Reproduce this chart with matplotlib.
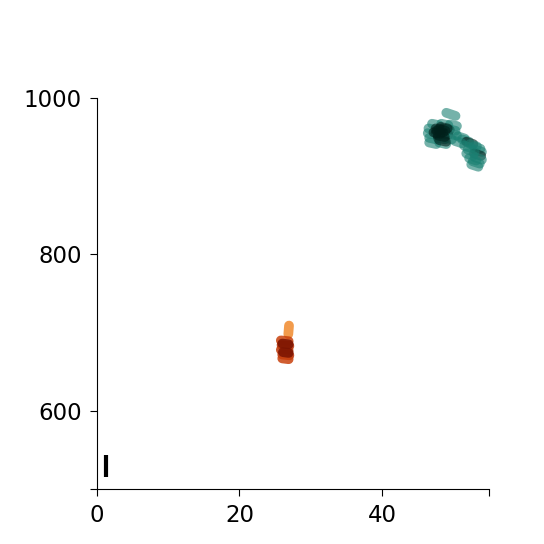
import matplotlib
matplotlib.use("Agg")
import matplotlib.pyplot as plt

# Teal cluster strokes (start -> end)
teal_x0 = [49.0,
           47.0, 48.3, 49.5,
           46.5, 47.5, 48.5, 49.3,
           46.4, 47.5, 48.3, 49.5,
           46.6, 47.8, 48.8,
           46.6, 48.0,
           47.6, 47.8, 48.2, 47.2, 48.0, 47.9,
           50.6, 51.2, 51.8, 52.3, 52.8, 53.0, 52.9, 53.0, 52.7, 52.5, 51.5, 52.0,
           50.2, 51.8, 52.2]
teal_y0 = [981,
           967, 967, 966,
           961, 961, 961, 960,
           955, 955, 955, 954,
           949, 949, 949,
           943, 943,
           958, 952, 963, 956, 946, 960,
           951, 947, 944, 941, 938, 934, 929, 924, 919, 915, 939, 934,
           945, 929, 923]
teal_x1 = [50.3,
           48.0, 49.3, 50.5,
           47.5, 48.5, 49.5, 50.3,
           47.4, 48.5, 49.3, 50.5,
           47.6, 48.8, 49.8,
           47.6, 49.0,
           48.6, 48.8, 49.2, 48.2, 49.0, 48.9,
           51.6, 52.2, 52.8, 53.3, 53.8, 54.0, 53.9, 54.0, 53.7, 53.5, 52.5, 53.0,
           51.2, 52.8, 53.2]
teal_y1 = [977,
           965, 965, 964,
           959, 959, 959, 958,
           953, 953, 953, 952,
           947, 947, 947,
           941, 941,
           956, 950, 961, 954, 944, 958,
           948, 944, 941, 938, 935, 931, 926, 921, 916, 912, 936, 931,
           942, 926, 920]
teal_dark = [0,
             0, 0, 0,
             0, 1, 1, 0,
             0, 1, 1, 0,
             0, 1, 0,
             0, 0,
             1, 1, 1, 1, 1, 1,
             0, 0, 1, 0, 0, 0, 1, 0, 0, 0, 0, 0,
             0, 0, 0]

# Orange / red cluster strokes
or_x0 = [26.95, 25.8, 25.9, 25.8, 26.0, 26.0, 26.0, 26.1]
or_y0 = [709, 690, 684, 678, 672, 667, 686, 675]
or_x1 = [26.85, 26.9, 27.0, 26.9, 27.0, 26.9, 26.9, 26.9]
or_y1 = [698, 689, 683, 677, 671, 666, 685, 674]
or_col = ['#f08a2c', '#c8400c', '#b83008', '#c03a0a', '#b83008', '#c8400c', '#7a1402', '#7a1402']

# Black stroke
blk_x = [1.26, 1.26]
blk_y = [544, 515]

fig = plt.figure(figsize=(5.44, 5.44), dpi=100)
ax = fig.add_axes([0.178, 0.101, 0.721, 0.719])

for x0, y0, x1, y1, d in zip(teal_x0, teal_y0, teal_x1, teal_y1, teal_dark):
    c = '#001f1a' if d else '#1a8072'
    ax.plot([x0, x1], [y0, y1], color=c, alpha=0.6, lw=7, solid_capstyle='round')

for x0, y0, x1, y1, c in zip(or_x0, or_y0, or_x1, or_y1, or_col):
    ax.plot([x0, x1], [y0, y1], color=c, alpha=0.85, lw=7, solid_capstyle='round')

ax.plot(blk_x, blk_y, color='black', lw=3, solid_capstyle='butt')

ax.set_xlim(0, 55)
ax.set_ylim(500, 1000)
ax.set_xticks([0, 20, 40, 55])
ax.set_xticklabels(['0', '20', '40', ''])
ax.set_yticks([500, 600, 800, 1000])
ax.set_yticklabels(['', '600', '800', '1000'])
ax.tick_params(labelsize=16.5, length=5, pad=6)
for s in ['top', 'right']:
    ax.spines[s].set_visible(False)

fig.savefig('out.png', dpi=100)
